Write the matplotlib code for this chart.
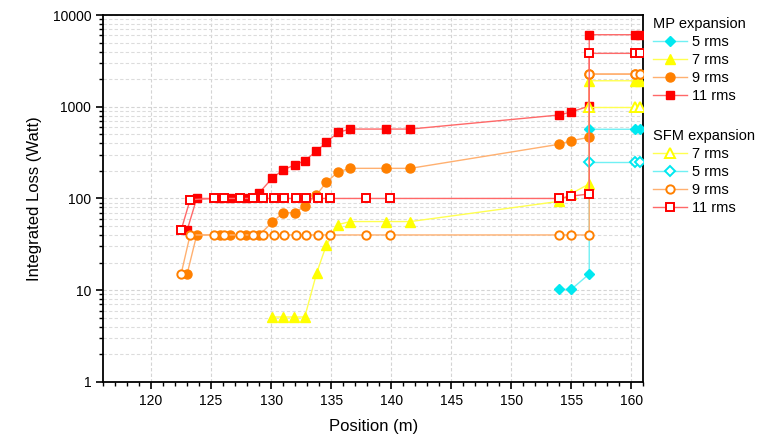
import matplotlib
matplotlib.use("Agg")
import matplotlib.pyplot as plt
from matplotlib.ticker import FixedLocator, FixedFormatter, LogLocator, NullFormatter, MultipleLocator

plt.rcParams['font.family'] = ['Liberation Sans', 'DejaVu Sans']

# ---------------- data ----------------
mp5_x = [154.0, 155.0, 156.5, 156.5, 160.3, 160.7]
mp5_y = [10.2, 10.2, 15, 568, 568, 568]

mp7_x = [130.1, 131.0, 131.9, 132.8, 133.8, 134.6, 135.6, 136.6, 139.6, 141.6,
         154.0, 155.0, 156.5, 156.5, 160.3, 160.7]
mp7_y = [5.1, 5.1, 5.1, 5.1, 15.5, 31, 52, 56, 56, 56,
         93, 113, 144, 1920, 1920, 1920]

mp9_x = [123.0, 123.8, 125.75, 126.6, 127.9, 129.0, 130.1, 131.0, 132.0, 132.8,
         133.75, 134.6, 135.6, 136.6, 139.6, 141.6, 154.0, 155.0, 156.5, 156.5,
         160.3, 160.7]
mp9_y = [15, 40, 40, 40, 40, 40, 55, 70, 70, 83,
         108, 150, 196, 213, 213, 213, 390, 427, 464, 2270,
         2270, 2270]

mp11_x = [123.0, 123.8, 125.75, 126.6, 127.9, 129.0, 130.1, 131.0, 132.0, 132.8,
          133.75, 134.6, 135.6, 136.6, 139.6, 141.6, 154.0, 155.0, 156.5, 156.5,
          160.3, 160.7]
mp11_y = [45, 100, 100, 100, 100, 115, 167, 205, 233, 258,
          326, 409, 527, 571, 571, 571, 813, 877, 1018, 6100,
          6100, 6100]

sfm5_x = [156.5, 160.3, 160.7]
sfm5_y = [248, 248, 248]

sfm7_x = [156.5, 160.3, 160.7]
sfm7_y = [990, 990, 990]

sfm9_x = [122.5, 123.25, 125.25, 126.1, 127.4, 128.5, 129.3, 130.25, 131.1, 132.1,
          132.9, 133.9, 134.9, 137.9, 139.9, 154.0, 155.0, 156.5, 156.5, 160.3, 160.7]
sfm9_y = [15, 40, 40, 40, 40, 40, 40, 40, 40, 40,
          40, 40, 40, 40, 40, 40, 40, 40, 2270, 2270, 2270]

sfm11_x = [122.5, 123.25, 125.25, 126.1, 127.4, 128.5, 129.3, 130.25, 131.1, 132.1,
           132.9, 133.9, 134.9, 137.9, 139.9, 154.0, 155.0, 156.5, 156.5, 160.3, 160.7]
sfm11_y = [45, 97, 100, 100, 100, 100, 100, 100, 100, 100,
           100, 100, 100, 100, 100, 100, 106, 112, 3820, 3820, 3820]

y_ticks = [1, 10, 100, 1000, 10000]
y_labels = ['1', '10', '100', '1000', '10000']
x_ticks = [120, 125, 130, 135, 140, 145, 150, 155, 160]

# ---------------- styles ----------------
C_CYAN, L_CYAN = '#00E8F0', '#70F0F4'
C_YEL, L_YEL = '#FFFF00', '#FFFF50'
C_ORA, L_ORA = '#FF8000', '#FFB070'
C_RED, L_RED = '#FF0000', '#FF6868'

fig = plt.figure(figsize=(7.75, 4.42), dpi=100)
ax = fig.add_axes([0.133, 0.136, 0.697, 0.830])

def mp(x, y, mk, c, lc, label, msz):
    return ax.plot(x, y, color=lc, lw=1.0, marker=mk, markersize=msz,
                   markerfacecolor=c, markeredgecolor=c, label=label, zorder=3)[0]

def sfm(x, y, mk, c, lc, label, msz):
    return ax.plot(x, y, color=lc, lw=1.0, marker=mk, markersize=msz,
                   markerfacecolor='white', markeredgecolor=c, markeredgewidth=1.4,
                   label=label, zorder=4)[0]

h_mp5 = mp(mp5_x, mp5_y, 'D', C_CYAN, L_CYAN, '5 rms', 5.0)
h_mp7 = mp(mp7_x, mp7_y, '^', C_YEL, L_YEL, '7 rms', 6.5)
h_mp9 = mp(mp9_x, mp9_y, 'o', C_ORA, L_ORA, '9 rms', 6.5)
h_mp11 = mp(mp11_x, mp11_y, 's', C_RED, L_RED, '11 rms', 6.0)

h_s7 = sfm(sfm7_x, sfm7_y, '^', C_YEL, L_YEL, '7 rms', 6.5)
h_s5 = sfm(sfm5_x, sfm5_y, 'D', C_CYAN, L_CYAN, '5 rms', 5.0)
h_s9 = sfm(sfm9_x, sfm9_y, 'o', C_ORA, L_ORA, '9 rms', 6.0)
h_s11 = sfm(sfm11_x, sfm11_y, 's', C_RED, L_RED, '11 rms', 5.5)

ax.set_yscale('log')
ax.set_ylim(1, 10000)
ax.set_xlim(116, 161)

ax.yaxis.set_major_locator(FixedLocator(y_ticks))
ax.yaxis.set_major_formatter(FixedFormatter(y_labels))
ax.yaxis.set_minor_locator(LogLocator(base=10, subs=range(2, 10)))
ax.yaxis.set_minor_formatter(NullFormatter())
ax.xaxis.set_major_locator(FixedLocator(x_ticks))
ax.xaxis.set_minor_locator(MultipleLocator(1))

ax.grid(True, which='major', axis='both', color='#d4d4d4', ls=(0, (3, 2)), lw=0.8)
ax.grid(True, which='minor', axis='y', color='#dcdcdc', ls=(0, (3, 2)), lw=0.8)
ax.set_axisbelow(True)

ax.tick_params(which='major', direction='out', length=5, width=1.2, labelsize=10)
ax.tick_params(which='minor', direction='out', length=3, width=1.0)
for s in ax.spines.values():
    s.set_linewidth(1.3)

ax.set_xlabel('Position (m)', fontsize=12, labelpad=8)
ax.set_ylabel('Integrated Loss (Watt)', fontsize=12, labelpad=8)

leg_kw = dict(frameon=False, fontsize=10.5, title_fontsize=10.5, loc='upper left',
              borderpad=0, borderaxespad=0, handlelength=2.3, handletextpad=0.35,
              labelspacing=0.28, alignment='left')
leg1 = fig.legend(handles=[h_mp5, h_mp7, h_mp9, h_mp11], title='MP expansion',
                  bbox_to_anchor=(653 / 775, 1 - 17 / 442), **leg_kw)
leg2 = fig.legend(handles=[h_s7, h_s5, h_s9, h_s11], title='SFM expansion',
                  bbox_to_anchor=(653 / 775, 1 - 129 / 442), **leg_kw)

fig.savefig('out.png', dpi=100)
